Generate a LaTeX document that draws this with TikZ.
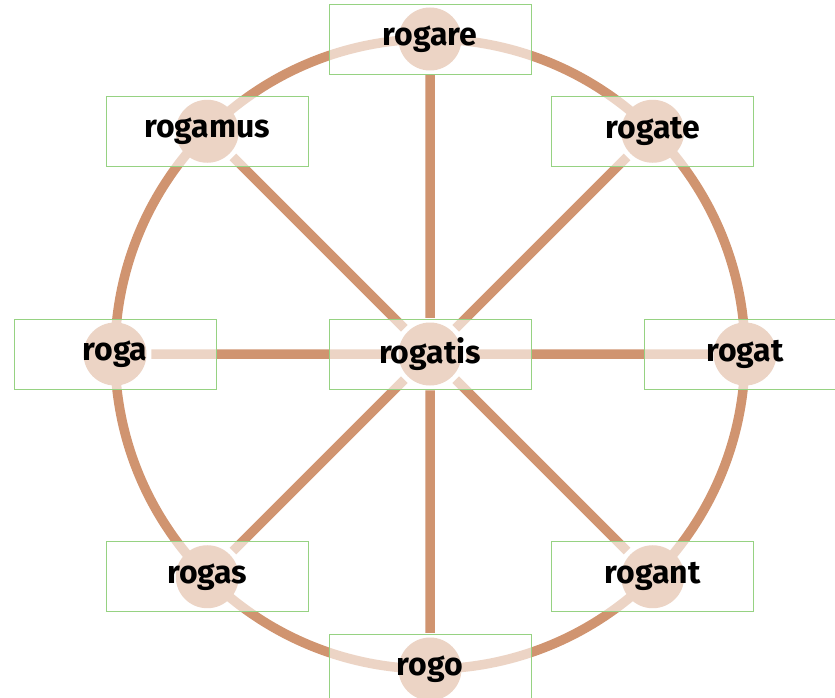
\documentclass[tikz,border=0pt]{standalone}
\usepackage{fontspec}
\setmainfont{Fira Sans}
\usepackage{tikz}
\usetikzlibrary{positioning, calc}
\definecolor{spoke}{RGB}{208,148,112}
\definecolor{boxline}{RGB}{150,210,130}
\tikzset{hub/.style={circle, fill=spoke, minimum size=63pt, inner sep=0pt},
	word box/.style={draw=boxline, line width=0.9pt, fill=white, fill opacity=0.6, text opacity=1, minimum width=202pt, minimum height=70pt, font=\bfseries\fontsize{32}{36}\selectfont},}

\begin{document}
\begin{tikzpicture}[x=1pt, y=1pt, line width=9.5pt, draw=spoke]
		\useasboundingbox (0,0) rectangle (835,-698);
		% Hubs
		\node[hub] (c) at (430,-354) {};
		\node[hub] (n) at ($(c)+(90:315)$) {};
		\node[hub] (ne) at ($(c)+(45:315)$) {};
		\node[hub] (e) at ($(c)+(0:315)$) {};
		\node[hub] (se) at ($(c)+(-45:315)$) {};
		\node[hub] (s) at ($(c)+(-90:315)$) {};
		\node[hub] (sw) at ($(c)+(-135:315)$) {};
		\node[hub] (w) at ($(c)+(180:315)$) {};
		\node[hub] (nw) at ($(c)+(135:315)$) {};
		% Rim and spokes
		\draw (c.center) circle (315);
		\path[draw]
		(c) -- (n)  (c) -- (ne)  (c) -- (e)  (c) -- (se)
		(c) -- (s)  (c) -- (sw)  (c) -- (w)  (c) -- (nw);
		% Words
		\node[word box] (rogatis) at (c) {rogatis};
		\node[word box] (rogare) at (n) {rogare};
		\node[word box] (rogate) at (ne) {rogate};
		\node[word box] (rogat) at (e) {rogat};
		\node[word box] (rogant) at (se) {rogant};
		\node[word box] (rogo) at (s) {rogo};
		\node[word box] (rogas) at (sw) {rogas};
		\node[word box] (roga) at (w) {roga};
		\node[word box] (rogamus) at (nw) {rogamus};
	\end{tikzpicture}
\end{document}
